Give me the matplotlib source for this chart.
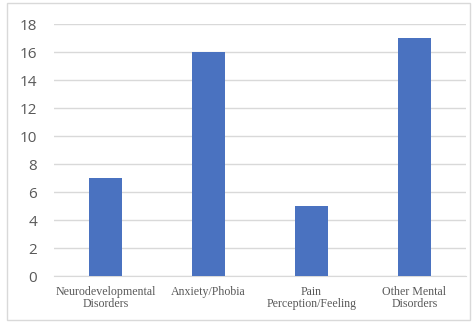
import matplotlib.pyplot as plt
from matplotlib.patches import Rectangle

# データ
categories = ['Neurodevelopmental\nDisorders', 'Anxiety/Phobia',
              'Pain\nPerception/Feeling', 'Other Mental\nDisorders']
counts = [7, 16, 5, 17]
yticks = [0, 2, 4, 6, 8, 10, 12, 14, 16, 18]

fig = plt.figure(figsize=(4.76, 3.23), dpi=100)
ax = fig.add_axes([0.113, 0.1455, 0.866, 0.78])

# 棒グラフ
ax.bar(range(len(counts)), counts, width=0.32, color='#4a72c0', zorder=3)

ax.set_xlim(-0.5, len(counts) - 0.5)
ax.set_ylim(0, 18)
ax.set_yticks(yticks)
ax.set_xticks(range(len(categories)))
ax.set_xticklabels(categories, fontfamily='Liberation Serif', fontsize=8.6,
                   color='#595959', linespacing=1.05)
ax.tick_params(axis='y', labelsize=11, labelcolor='#595959', length=0, pad=12)
ax.tick_params(axis='x', length=0, pad=7)
for lbl in ax.get_yticklabels():
    lbl.set_fontfamily('Open Sans')

# 目盛線
ax.grid(axis='y', color='#d9d9d9', linewidth=1, zorder=0)
for s in ['top', 'right', 'left']:
    ax.spines[s].set_visible(False)
ax.spines['bottom'].set_color('#d9d9d9')

# 外枠
fig.patches.append(Rectangle((0.015, 0.01), 0.972, 0.98, transform=fig.transFigure,
                             fill=False, edgecolor='#d9d9d9', linewidth=1))

fig.savefig('out.png', dpi=100)
